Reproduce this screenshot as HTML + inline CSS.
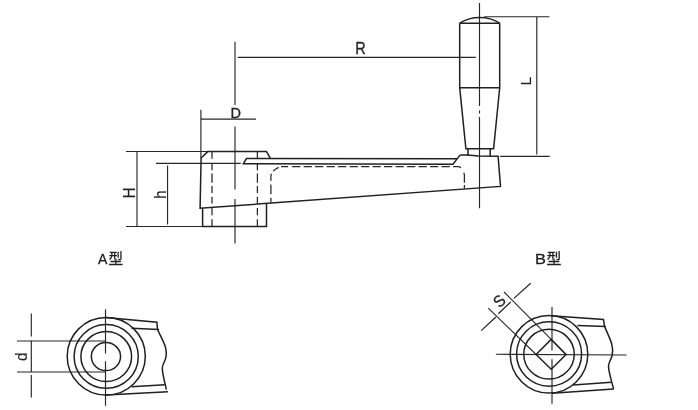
<!DOCTYPE html>
<html lang="zh">
<head>
<meta charset="utf-8">
<title>Crank handle drawing</title>
<style>
html,body{margin:0;padding:0;background:#ffffff;}
body{width:698px;height:410px;overflow:hidden;}
svg{display:block;filter:grayscale(1);}
text{font-family:"Liberation Sans","Noto Sans CJK SC",sans-serif;fill:#231f20;stroke:#231f20;stroke-width:0.3;}
.k{stroke:#231f20;stroke-width:1.5;fill:none;stroke-linejoin:miter;stroke-miterlimit:3;stroke-linecap:butt;}
.t{stroke:#2a2627;stroke-width:1.15;fill:none;}
.d{stroke:#2a2627;stroke-width:1.25;fill:none;stroke-dasharray:6.5 2;}
</style>
</head>
<body>
<svg width="698" height="410" viewBox="0 0 698 410">
<rect x="0" y="0" width="698" height="410" fill="#ffffff"/>

<!-- ===== Side view : thin / dimension lines ===== -->
<g class="t">
  <!-- hub centre line -->
  <path d="M235,41.7V105 M235,126.5V189.6 M235,198.9V243.6"/>
  <!-- R -->
  <path d="M237.7,57.3H475.8"/>
  <!-- D -->
  <path d="M200.9,109.7V158 M200.9,119.1H256"/>
  <!-- H -->
  <path d="M126,151.5H207 M126,226.5H203 M137,151.5V226.5"/>
  <!-- h -->
  <path d="M156,163.4H240.8 M167.55,165.6V224.6"/>
  <!-- handle centre line -->
  <path d="M479.5,3V106 M479.5,110.4V113.6 M479.5,116.9V208.2"/>
  <!-- L -->
  <path d="M484.2,16.75H549.4 M500.2,156.3H549.7 M536.8,16.75V154.5"/>
</g>

<!-- ===== Side view : hidden (dashed) lines ===== -->
<g class="d">
    <path d="M212,152V158.8 M212,163.4V170.3 M212,173.4V182.7 M212,186.1V192.9 M212,196.8V203.6 M212,208V215.3 M212,219.2V226.3 M257.4,152V158.8 M257.4,163.4V170.3 M257.4,173.4V182.7 M257.4,186.1V192.9 M257.4,196.8V203.6 M257.4,208V215.3 M257.4,219.2V226.3" style="stroke-dasharray:none"/>
  <!-- arm cavity -->
  <path d="M270.9,202.6V197.7 M270.9,194.3V184.6 M270.9,180.7V176.2Q270.9,174.8 271.6,173.8 M273.1,171.1Q275.6,168.6 278.7,167.3 M281,166.6H288.1" style="stroke-dasharray:none"/>
  <path d="M292.1,166.6H458.1Q460.6,166.6 461.7,169.1" style="stroke-dasharray:8.2 3.3"/>
  <path d="M463.7,172.9Q464.4,174 464.4,175.5V182.8 M464.4,184.9V188.8" style="stroke-dasharray:none"/>
</g>

<!-- ===== Side view : outline ===== -->
<g class="k">
  <!-- hub + arm -->
  <path d="M270.5,158.6L266.5,151.6H207.7L201.1,158L200.1,208.2L500.5,186.4L498.1,156.3L478,156L467.8,155L460.2,154.9"/>
  <path d="M457.3,158.7L246.4,158.55L243.4,163.7L453,164.15L460.2,154.9"/>
  <!-- lower hub -->
  <path d="M202.6,208V226.5H266.5V203.5"/>
  <!-- handle -->
  <path d="M459.7,23.2V87.7L465.9,148.8H493.6L499.7,87.7V23.2"/>
  <path d="M459.7,23.2H499.7 M459.7,87.7H499.7" stroke-width="1.35"/>
  <path d="M459.7,23.2A38.6,38.6 0 0 1 499.7,23.2"/>
  <path d="M468,148.8V155.2 M490.2,148.8V156"/>
</g>

<!-- ===== Side view : labels ===== -->
<text transform="translate(235.7,117.9) scale(1,1.06)" font-size="14.5" text-anchor="middle">D</text>
<text transform="translate(360.6,53.8) scale(1,1.16)" font-size="14.5" text-anchor="middle">R</text>
<text transform="translate(134.8,192.9) rotate(-90) scale(1.06,1.14)" font-size="14.5" text-anchor="middle" style="stroke-width:0.12">H</text>
<text transform="translate(165.8,194.6) rotate(-90) scale(1.03,1.14)" font-size="14.5" text-anchor="middle" style="stroke-width:0.12">h</text>
<text transform="translate(530.9,81.0) rotate(-90) scale(1.1,1.07)" font-size="14.5" text-anchor="middle" style="stroke-width:0.12">L</text>

<!-- ===== A view ===== -->
<text y="264.1" font-size="14.5"><tspan x="97.9" textLength="9.38" lengthAdjust="spacingAndGlyphs">A</tspan><tspan x="108.6">型</tspan></text>
<g class="t">
  <path d="M105.5,309.2V353.4 M105.5,361.2V405.7"/>
  <path d="M17,341H105.5 M17,372H105.5"/>
  <path d="M31.3,313.5V336.5 M31.3,340.5V372 M31.3,375V397.5"/>
</g>
<g class="k">
  <ellipse cx="106.25" cy="356.3" rx="39.05" ry="38.8"/>
  <ellipse cx="106.2" cy="356.45" rx="32.1" ry="31.85"/>
  <ellipse cx="106.25" cy="356.55" rx="25.35" ry="24.95"/>
  <ellipse cx="105.95" cy="356.55" rx="14.6" ry="14"/>
  <path d="M106,317.6L156.9,322.3L157.5,329.5"/>
  <path d="M131.5,328.2L159,329.6"/>
  <path d="M157.5,329.5C160,335 164,342 165.4,347C166.6,351.5 166.5,356 165.3,359.5C164.2,362.5 162.4,365 162.3,368C162.2,372.5 164.6,382 166.4,389.7"/>
  <path d="M131.6,386.8L164.8,384.7"/>
  <path d="M106,395L167.9,391.7"/>
</g>
<text transform="translate(27.3,356.8) rotate(-90) scale(1.06,1.09)" font-size="14.5" text-anchor="middle" style="stroke-width:0.12">d</text>

<!-- ===== B view ===== -->
<text y="264" font-size="14.5"><tspan x="534.9" textLength="10.93" lengthAdjust="spacingAndGlyphs">B</tspan><tspan x="546.4" textLength="14.9" lengthAdjust="spacingAndGlyphs">型</tspan></text>
<g class="t">
  <path d="M552,307V350.6 M552,359.2V403.7"/>
  <path d="M495.9,354.3L626.5,355.05"/>
  <!-- S dimension -->
  <path d="M481.2,330.6L495.9,317 M498.3,313.7L510.7,302 M513.9,298.4L530.7,283.2" stroke-width="1.25"/>
  <path d="M488.3,308.1L536.1,354.5 M504.1,292L551.2,339.4" stroke-width="1.1"/>
</g>
<g class="k">
  <ellipse cx="549" cy="354.3" rx="38.8" ry="38.8"/>
  <ellipse cx="549.1" cy="354" rx="32.5" ry="32.2"/>
  <ellipse cx="549" cy="354.2" rx="25.25" ry="24.9"/>
  <path d="M551.2,339.4L566.1,354.6L551.2,369.2L536.1,354.5Z"/>
  <path d="M551,315.7L603.5,319.5L604.5,326.4"/>
  <path d="M577.4,325.5L605.7,326.5"/>
  <path d="M604.5,326.4C606.5,331 610,338.5 611.6,343.5C612.8,347.5 613,352 612,356C611,359.5 608.6,362.5 608.5,366C608.4,371 611.5,381 613.6,389.1"/>
  <path d="M573.1,385.1L611.6,382.3"/>
  <path d="M552,393.2L613.7,389.1"/>
</g>
<text transform="translate(503.3,304.9) rotate(-45) scale(1.04,1.12)" font-size="14.5" text-anchor="middle">S</text>
</svg>
</body>
</html>
